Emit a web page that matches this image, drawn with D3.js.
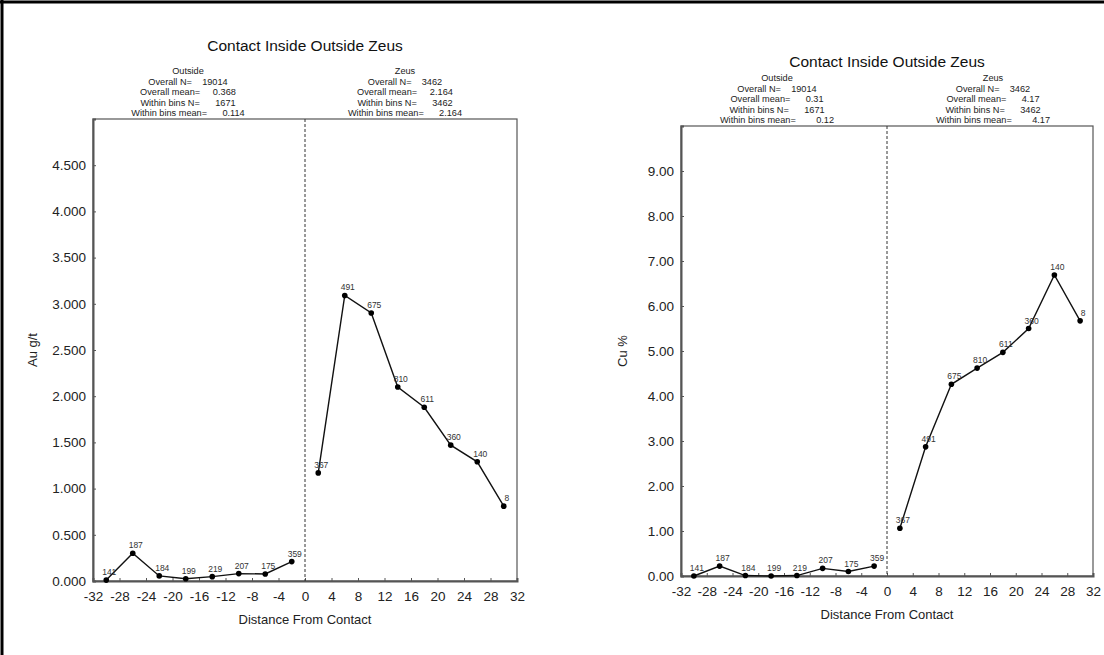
<!DOCTYPE html>
<html>
<head>
<meta charset="utf-8">
<script src="https://cdn.jsdelivr.net/npm/d3@7"></script>
<style>
  html, body { margin: 0; padding: 0; background: #fff; }
  svg { display: block; font-family: "Liberation Sans", Arial, Helvetica, sans-serif; }
  text { white-space: pre; }
</style>
</head>
<body>
<svg id="chart" width="1104" height="655"></svg>
<script>
// ---------------- DATA ----------------
const binCentres = [-30, -26, -22, -18, -14, -10, -6, -2, 2, 6, 10, 14, 18, 22, 26, 30];
const binCounts  = [141, 187, 184, 199, 219, 207, 175, 359, 367, 491, 675, 810, 611, 360, 140, 8];
const domainOf   = ["Outside","Outside","Outside","Outside","Outside","Outside","Outside","Outside",
                    "Zeus","Zeus","Zeus","Zeus","Zeus","Zeus","Zeus","Zeus"];
const auValues   = [0.010, 0.300, 0.055, 0.025, 0.047, 0.080, 0.076, 0.210,
                    1.170, 3.090, 2.900, 2.100, 1.880, 1.470, 1.290, 0.810];
const cuValues   = [0.00, 0.22, 0.01, 0.00, 0.01, 0.17, 0.10, 0.22,
                    1.06, 2.87, 4.26, 4.62, 4.97, 5.50, 6.69, 5.67];
const xTicks     = [-32, -28, -24, -20, -16, -12, -8, -4, 0, 4, 8, 12, 16, 20, 24, 28, 32];
const auTicks    = [0, 0.5, 1, 1.5, 2, 2.5, 3, 3.5, 4, 4.5];
const cuTicks    = [0, 1, 2, 3, 4, 5, 6, 7, 8, 9];
const statLabels = ["Overall N=", "Overall mean=", "Within bins N=", "Within bins mean="];
const auOutsideStats = ["19014", "0.368", "1671", "0.114"];
const auZeusStats    = ["3462", "2.164", "3462", "2.164"];
const cuOutsideStats = ["19014", "0.31", "1671", "0.12"];
const cuZeusStats    = ["3462", "4.17", "3462", "4.17"];
const chartTitle = "Contact Inside Outside Zeus";
const xTitle = "Distance From Contact";

// ---------------- DRAW ----------------
const svg = d3.select("#chart");

// outer border (left + top)
svg.append("line").attr("x1", 2).attr("x2", 2).attr("y1", 0).attr("y2", 655)
  .attr("stroke", "#000").attr("stroke-width", 3);
svg.append("line").attr("x1", 0).attr("x2", 1104).attr("y1", 2).attr("y2", 2)
  .attr("stroke", "#000").attr("stroke-width", 3);

function drawPanel(cfg) {
  const g = svg.append("g");
  const x = d3.scaleLinear().domain([-32, 32]).range([cfg.x0, cfg.x1]);
  const y = d3.scaleLinear().domain([0, cfg.yMax]).range([cfg.y1, cfg.y0]);
  const midX = (cfg.x0 + cfg.x1) / 2;

  // title
  g.append("text").attr("x", midX).attr("y", cfg.titleY)
    .attr("text-anchor", "middle").attr("font-size", 15.5).attr("fill", "#111")
    .text(chartTitle);

  // header blocks
  function header(cx, name, vals, gaps) {
    const lines = [name].concat(statLabels.map((l, i) => l + gaps[i] + vals[i]));
    lines.forEach((t, i) => {
      g.append("text").attr("x", cx).attr("y", cfg.y0 - 3 - (4 - i) * 10.5)
        .attr("text-anchor", "middle").attr("font-size", 9.2).attr("fill", "#222")
        .text(t);
    });
  }
  header(cfg.hOut, "Outside", cfg.outStats, cfg.outGaps);
  header(cfg.hZeus, "Zeus", cfg.zeusStats, cfg.zeusGaps);

  // frame
  g.append("rect").attr("x", cfg.x0).attr("y", cfg.y0)
    .attr("width", cfg.x1 - cfg.x0).attr("height", cfg.y1 - cfg.y0)
    .attr("fill", "none").attr("stroke", "#555").attr("stroke-width", 1.2);

  // y axis
  const yAxis = d3.axisLeft(y).tickValues(cfg.yTicks).tickFormat(d3.format(cfg.yFmt))
    .tickSize(-3).tickPadding(7);
  const ya = g.append("g").attr("transform", `translate(${cfg.x0},0)`).call(yAxis);
  ya.select(".domain").attr("stroke", "#555").attr("stroke-width", 2);
  ya.selectAll(".tick line").attr("stroke", "#555");
  ya.selectAll(".tick text").attr("font-size", 13.5).attr("fill", "#222")
    .attr("font-family", "Liberation Sans, Arial, sans-serif");

  // x axis
  const xAxis = d3.axisBottom(x).tickValues(xTicks).tickFormat(d => String(d))
    .tickSize(-3).tickPadding(10);
  const xa = g.append("g").attr("transform", `translate(0,${cfg.y1})`).call(xAxis);
  xa.select(".domain").attr("stroke", "#555").attr("stroke-width", 2);
  xa.selectAll(".tick line").attr("stroke", "#555");
  xa.selectAll(".tick text").attr("font-size", 13.5).attr("fill", "#222")
    .attr("font-family", "Liberation Sans, Arial, sans-serif");

  // axis titles
  g.append("text").attr("x", midX).attr("y", cfg.xTitleY)
    .attr("text-anchor", "middle").attr("font-size", 13).attr("fill", "#222").text(xTitle);
  g.append("text").attr("transform", `translate(${cfg.yTitleX},${(cfg.y0 + cfg.y1) / 2}) rotate(-90)`)
    .attr("text-anchor", "middle").attr("font-size", 13).attr("fill", "#222").text(cfg.yTitle);

  // contact line
  g.append("line").attr("x1", x(0)).attr("x2", x(0)).attr("y1", cfg.y0).attr("y2", cfg.y1)
    .attr("stroke", "#333").attr("stroke-width", 1).attr("stroke-dasharray", "3,2");

  // data
  const pts = binCentres.map((c, i) => ({ c, n: binCounts[i], v: cfg.values[i], d: domainOf[i] }));
  const line = d3.line().x(d => x(d.c)).y(d => y(d.v));
  ["Outside", "Zeus"].forEach(dom => {
    g.append("path").datum(pts.filter(p => p.d === dom))
      .attr("d", line).attr("fill", "none").attr("stroke", "#111").attr("stroke-width", 1.4);
  });
  g.selectAll(null).data(pts).enter().append("circle")
    .attr("cx", d => x(d.c)).attr("cy", d => y(d.v)).attr("r", 2.8).attr("fill", "#000");
  g.selectAll(null).data(pts).enter().append("text")
    .attr("x", d => x(d.c) + 3).attr("y", d => y(d.v) - 5)
    .attr("text-anchor", "middle").attr("font-size", 8.5).attr("fill", "#333")
    .text(d => d.n);
}

drawPanel({
  x0: 93, x1: 517, y0: 119, y1: 581, yMax: 5,
  yTicks: auTicks, yFmt: ".3f", values: auValues, yTitle: "Au g/t",
  titleY: 51, xTitleY: 624, yTitleX: 37,
  hOut: 188, hZeus: 405,
  outStats: auOutsideStats, zeusStats: auZeusStats,
  outGaps: ["    ", "     ", "      ", "      "],
  zeusGaps: ["    ", "     ", "      ", "      "]
});

drawPanel({
  x0: 681, x1: 1093, y0: 126, y1: 576, yMax: 10,
  yTicks: cuTicks, yFmt: ".2f", values: cuValues, yTitle: "Cu %",
  titleY: 67, xTitleY: 619, yTitleX: 627,
  hOut: 777, hZeus: 993,
  outStats: cuOutsideStats, zeusStats: cuZeusStats,
  outGaps: ["    ", "      ", "      ", "        "],
  zeusGaps: ["    ", "      ", "      ", "        "]
});
</script>
</body>
</html>
